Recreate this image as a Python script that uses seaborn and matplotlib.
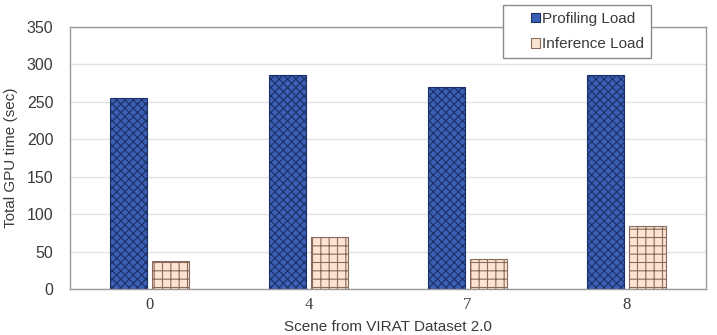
import pandas as pd
import seaborn as sns
import matplotlib.pyplot as plt
from matplotlib.patches import Patch, Rectangle
from matplotlib.legend_handler import HandlerPatch

# Data
scenes = ["0", "4", "7", "8"]
profiling_load = [255, 286, 270, 286]
inference_load = [37, 69, 40, 84]
series_names = ["Profiling Load", "Inference Load"]

df = pd.DataFrame({
    "scene": scenes * 2,
    "load": [series_names[0]] * len(scenes) + [series_names[1]] * len(scenes),
    "time": profiling_load + inference_load,
})

sns.set_theme(style="whitegrid")
plt.rcParams["font.family"] = ["Liberation Sans", "DejaVu Sans"]
plt.rcParams["hatch.linewidth"] = 0.8

face_colors = ["#3a5fb3", "#fbe4d2"]
edge_colors = ["#1c2f66", "#8a6a5c"]
hatches = ["xxxx", "++"]

fig = plt.figure(figsize=(7.17, 3.35), dpi=100)
ax = fig.add_axes([70 / 717, 1 - 289 / 335, 636 / 717, 262 / 335])

sns.barplot(data=df, x="scene", y="time", hue="load", order=scenes,
            hue_order=series_names, palette=face_colors, width=0.52,
            gap=0.1, saturation=1, legend=False, ax=ax)

for i, container in enumerate(ax.containers):
    for bar in container:
        bar.set_hatch(hatches[i])
        bar.set_edgecolor(edge_colors[i])
        bar.set_linewidth(0.8)

ax.set_ylim(0, 350)
ax.set_yticks(range(0, 351, 50))
ax.grid(axis="y", color="#e3e3e3", linewidth=1)
ax.grid(axis="x", visible=False)
for s in ax.spines.values():
    s.set_color("#9a9a9a")
    s.set_linewidth(1)
ax.tick_params(axis="y", labelsize=11.5, labelcolor="#3a3a3a", length=0, pad=12)
ax.tick_params(axis="x", labelsize=12, labelcolor="#3a3a3a", length=0, pad=6)
for lbl in ax.get_xticklabels():
    lbl.set_fontfamily("Liberation Serif")
ax.set_ylabel("Total GPU time (sec)", fontsize=11, color="#3a3a3a", labelpad=6)
ax.set_xlabel("Scene from VIRAT Dataset 2.0", fontsize=11, color="#3a3a3a", labelpad=5)


# small square marker sitting at the right end of the handle box
def small_square(legend, orig_handle, xdescent, ydescent, width, height, fontsize):
    side = 7
    return Rectangle((width - side - xdescent, (height - side) / 2 - ydescent), side, side)


handles = [Patch(facecolor=face_colors[i], edgecolor=edge_colors[i], linewidth=0.8)
           for i in range(2)]
leg = fig.legend(handles, series_names, loc="upper left",
                 bbox_to_anchor=(503 / 717, 1 - 5 / 335), fontsize=11,
                 frameon=True, fancybox=False, handlelength=2.0, handleheight=0.6,
                 handletextpad=0.12, borderpad=0.45, labelspacing=0.75,
                 borderaxespad=0,
                 handler_map={Patch: HandlerPatch(patch_func=small_square)})
leg.get_frame().set_edgecolor("#8a8a8a")
leg.get_frame().set_linewidth(1)
leg.get_frame().set_facecolor("white")
leg.get_frame().set_alpha(1)
for t in leg.get_texts():
    t.set_color("#3a3a3a")

fig.savefig("out.png", dpi=100)
plt.close(fig)
